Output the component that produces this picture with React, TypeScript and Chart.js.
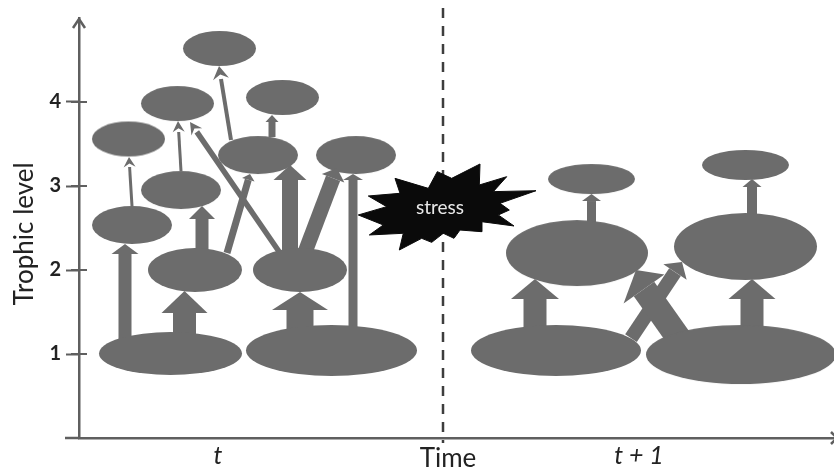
import React, { useEffect, useRef } from "react";
import { Chart, registerables } from "chart.js";

Chart.register(...registerables);

const TEXT_FONT = "Lato, 'Open Sans', sans-serif";
const MARK = "#6c6c6c";
const AXIS = "#5f5f5f";

// Axis labels
const levelTicks = [1, 2, 3, 4];
const timeTickValues = [218, 639];
const timeTickLabels = ["t", "t + 1"];
const stressTime = 443;

// Compartments: time position, trophic level, half width (time units), half height (levels)
const nodeTime = [219.5, 177.5, 282.5, 128.5, 258, 356, 181, 132, 195, 300, 170.5, 331.5, 556, 741, 577, 745.5, 591.5, 745.5];
const nodeLevel = [4.637, 3.982, 4.054, 3.56, 3.369, 3.369, 2.952, 2.536, 2.0, 2.0, 1.006, 1.042, 1.042, 0.994, 2.202, 2.28, 3.083, 3.25];
const nodeHalfWidth = [36.5, 36.5, 36.5, 36.5, 40, 40, 40, 40, 47, 47, 71.5, 85.5, 85, 95, 71, 71.5, 43.5, 43.5];
const nodeHalfHeight = [0.208, 0.208, 0.208, 0.208, 0.226, 0.226, 0.226, 0.226, 0.262, 0.262, 0.256, 0.304, 0.304, 0.351, 0.393, 0.399, 0.179, 0.179];

// Energy flows: start, neck (base of the head), tip, shaft width, head width
const flowFromTime = [132, 181, 231, 272, 280, 227, 290, 304, 353, 202, 125, 184.5, 300, 535, 752, 591.5, 752, 680, 631];
const flowFromLevel = [2.762, 3.179, 3.548, 3.583, 2.202, 2.202, 2.179, 2.179, 1.286, 2.179, 1.167, 1.167, 1.226, 1.226, 1.226, 2.536, 2.595, 1.167, 1.19];
const flowNeckTime = [129.6, 178.7, 221, 272, 196.8, 248.3, 290, 333.1, 353, 202, 125, 184.5, 300, 535, 752, 591.5, 752, 644, 675];
const flowNeckLevel = [3.226, 3.643, 4.274, 3.762, 3.644, 3.074, 3.071, 3.092, 3.071, 2.607, 2.19, 1.488, 1.524, 1.655, 1.655, 2.821, 2.988, 1.774, 1.976];
const flowTipTime = [129, 178, 219, 272, 190, 250, 290, 337, 353, 202, 125, 184.5, 300, 535, 752, 591.5, 752, 636, 682];
const flowTipLevel = [3.345, 3.774, 4.429, 3.845, 3.762, 3.143, 3.25, 3.214, 3.143, 2.762, 2.31, 1.75, 1.738, 1.893, 1.893, 2.905, 3.083, 2.0, 2.095];
const flowWidth = [3, 3, 4, 7, 5.5, 7, 16, 15, 9, 13, 13, 23, 27, 23, 23, 9, 10, 25, 14];
const flowHeadWidth = [12, 12, 16, 13, 13, 13, 33, 24, 20, 26, 27, 46, 56, 48, 47, 19, 19, 50, 28];

// Stress burst outline
const burstTime = [395, 428.3, 437.3, 451.7, 480, 479.3, 506.7, 493.3, 536, 500, 509.3, 498.3, 514, 481.7, 481.7, 460, 454, 443.3, 431.7, 421.7, 399.3, 403.3, 369.3, 383.3, 358.3, 386.7, 368.3, 400, 395];
const burstLevel = [3.091, 2.972, 3.171, 3.091, 3.262, 3.012, 3.111, 2.933, 2.944, 2.794, 2.714, 2.655, 2.524, 2.575, 2.456, 2.476, 2.377, 2.437, 2.329, 2.377, 2.238, 2.437, 2.417, 2.536, 2.655, 2.754, 2.881, 2.913, 3.091];

const ellipseCache = new Map<string, HTMLCanvasElement>();
function ellipseImage(rx: number, ry: number) {
  const key = rx + "/" + ry;
  let c = ellipseCache.get(key);
  if (!c) {
    c = document.createElement("canvas");
    c.width = Math.round(rx * 2) + 2;
    c.height = Math.round(ry * 2) + 2;
    const g = c.getContext("2d")!;
    g.fillStyle = MARK;
    g.beginPath();
    g.ellipse(c.width / 2, c.height / 2, rx, ry, 0, 0, Math.PI * 2);
    g.fill();
    ellipseCache.set(key, c);
  }
  return c;
}

const decorations = {
  id: "decorations",
  afterDatasetsDraw(chart: any) {
    const { ctx, scales } = chart;
    const X = scales.x;
    const Y = scales.y;
    ctx.save();
    // arrow heads
    ctx.fillStyle = MARK;
    flowTipTime.forEach((_, i) => {
      const nx = X.getPixelForValue(flowNeckTime[i]);
      const ny = Y.getPixelForValue(flowNeckLevel[i]);
      const tx = X.getPixelForValue(flowTipTime[i]);
      const ty = Y.getPixelForValue(flowTipLevel[i]);
      const fx = X.getPixelForValue(flowFromTime[i]);
      const fy = Y.getPixelForValue(flowFromLevel[i]);
      const shaftLen = Math.hypot(nx - fx, ny - fy);
      const sx = (nx - fx) / shaftLen;
      const sy = (ny - fy) / shaftLen;
      const len = Math.hypot(tx - nx, ty - ny);
      const hw = flowHeadWidth[i] / 2;
      const notch = flowWidth[i] < 6 ? len * 0.35 : 0;
      ctx.beginPath();
      ctx.moveTo(tx, ty);
      ctx.lineTo(nx - sy * hw, ny + sx * hw);
      ctx.lineTo(nx + sx * notch, ny + sy * notch);
      ctx.lineTo(nx + sy * hw, ny - sx * hw);
      ctx.closePath();
      ctx.fill();
    });
    // axis arrow heads
    ctx.strokeStyle = AXIS;
    ctx.lineWidth = 2.5;
    const ax = X.left;
    const ay = Y.top;
    ctx.beginPath();
    ctx.moveTo(ax - 6, ay + 10);
    ctx.lineTo(ax, ay + 1);
    ctx.lineTo(ax + 6, ay + 10);
    ctx.stroke();
    const bx = X.right + 3;
    const by = Y.bottom;
    ctx.beginPath();
    ctx.moveTo(bx - 6, by - 6);
    ctx.lineTo(bx, by);
    ctx.lineTo(bx - 6, by + 6);
    ctx.stroke();
    // texts
    ctx.textAlign = "center";
    ctx.textBaseline = "middle";
    ctx.fillStyle = "#e8e8e8";
    ctx.font = `19px ${TEXT_FONT}`;
    ctx.fillText("stress", X.getPixelForValue(440), Y.getPixelForValue(2.738));
    ctx.fillStyle = "#222222";
    ctx.font = `26px ${TEXT_FONT}`;
    ctx.fillText("Time", X.getPixelForValue(448), Y.bottom + 21);
    ctx.translate(25, Y.getPixelForValue(2.43));
    ctx.rotate(-Math.PI / 2);
    ctx.fillText("Trophic level", 0, 0);
    ctx.restore();
  },
};

export default function App() {
  const ref = useRef<HTMLCanvasElement>(null);

  useEffect(() => {
    document.body.style.margin = "0";
    const shafts = flowFromTime.map((_, i) => ({
      type: "line" as const,
      data: [
        { x: flowFromTime[i], y: flowFromLevel[i] },
        { x: flowNeckTime[i], y: flowNeckLevel[i] },
      ],
      borderColor: MARK,
      borderWidth: flowWidth[i],
      pointRadius: 0,
      clip: false as const,
      order: 4,
    }));
    const chart = new Chart(ref.current!, {
      type: "scatter",
      plugins: [decorations],
      data: {
        datasets: [
          {
            type: "line",
            label: "stress",
            data: burstTime.map((x, i) => ({ x, y: burstLevel[i] })),
            borderColor: "#0a0a0a",
            borderWidth: 1,
            backgroundColor: "#0a0a0a",
            fill: "shape",
            pointRadius: 0,
            tension: 0,
            clip: false,
            order: 0,
          },
          {
            type: "line",
            label: "stress time",
            data: [
              { x: stressTime, y: 5.12 },
              { x: stressTime, y: -0.06 },
            ],
            borderColor: "#3d3d3d",
            borderWidth: 2.5,
            borderDash: [10, 8],
            pointRadius: 0,
            clip: false,
            order: 6,
          },
          {
            type: "line",
            label: "axis extension",
            data: [
              { x: 65, y: 0 },
              { x: 79, y: 0 },
            ],
            borderColor: AXIS,
            borderWidth: 2.5,
            pointRadius: 0,
            clip: false,
            order: 7,
          },
          {
            type: "scatter",
            label: "level marks",
            data: levelTicks.map((y) => ({ x: 79, y })),
            pointStyle: "line",
            pointRadius: 8,
            pointBorderColor: AXIS,
            pointBorderWidth: 2,
            clip: false,
            order: 7,
          },
          {
            type: "scatter",
            label: "compartments",
            data: nodeTime.map((x, i) => ({ x, y: nodeLevel[i] })),
            pointRadius: 1,
            pointStyle: (c: any) => {
              const i = c.dataIndex;
              if (i === undefined) return "circle";
              const s = c.chart.scales;
              const rx = Math.abs(s.x.getPixelForValue(nodeTime[i] + nodeHalfWidth[i]) - s.x.getPixelForValue(nodeTime[i]));
              const ry = Math.abs(s.y.getPixelForValue(nodeLevel[i] + nodeHalfHeight[i]) - s.y.getPixelForValue(nodeLevel[i]));
              return ellipseImage(rx, ry);
            },
            clip: false,
            order: 3,
          },
          ...shafts,
        ] as any,
      },
      options: {
        responsive: false,
        devicePixelRatio: 1,
        animation: false,
        events: [],
        layout: { autoPadding: false, padding: { top: 18, right: 0, left: 0, bottom: 0 } },
        plugins: { legend: { display: false }, tooltip: { enabled: false } },
        scales: {
          x: {
            type: "linear",
            min: 79,
            max: 834,
            afterFit: (s: any) => {
              s.height = 33;
              s.paddingLeft = 0;
              s.paddingRight = 0;
            },
            afterBuildTicks: (s: any) => {
              s.ticks = timeTickValues.map((value) => ({ value }));
            },
            grid: { display: false },
            border: { display: true, color: AXIS, width: 2.5 },
            ticks: {
              autoSkip: false,
              maxRotation: 0,
              padding: -5,
              color: "#222222",
              font: { family: TEXT_FONT, size: 25, style: "italic" },
              callback: (v: any) => timeTickLabels[timeTickValues.indexOf(v)] ?? "",
            },
          },
          y: {
            type: "linear",
            min: 0,
            max: 5,
            afterFit: (s: any) => {
              s.width = 79;
              s.paddingTop = 0;
              s.paddingBottom = 0;
            },
            afterBuildTicks: (s: any) => {
              s.ticks = levelTicks.map((value) => ({ value }));
            },
            grid: { drawOnChartArea: false, drawTicks: true, tickLength: 13, tickColor: AXIS, tickWidth: 2 },
            border: { display: true, color: AXIS, width: 2.5 },
            ticks: {
              padding: 5,
              color: "#222222",
              font: { family: TEXT_FONT, size: 20, weight: "bold" },
              callback: (v: any) => String(v),
            },
          },
        },
      },
    } as any);
    return () => chart.destroy();
  }, []);

  return (
    <div style={{ position: "absolute", left: 0, top: 0, width: 834, height: 471, overflow: "hidden", background: "#ffffff" }}>
      <canvas ref={ref} width={834} height={471} style={{ display: "block" }} />
    </div>
  );
}
